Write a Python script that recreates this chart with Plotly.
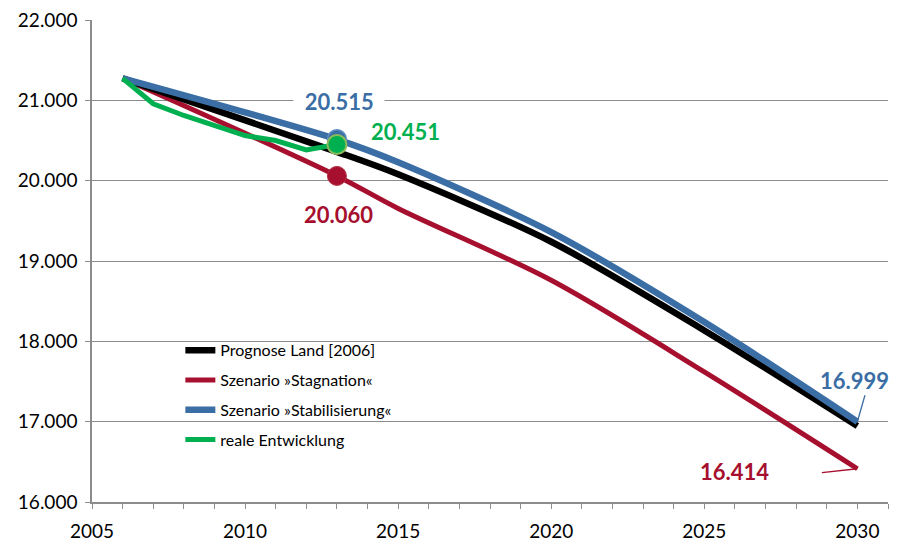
import plotly.graph_objects as go

# ---- data ----
years_scen = [2006, 2013, 2015, 2020, 2025, 2030]
prognose = [21275, 20360, 20080, 19240, 18136, 16945]
stagnation = [21275, 20060, 19655, 18760, 17620, 16414]
stabilisierung = [21275, 20515, 20230, 19360, 18240, 16999]

years_real = [2006, 2007, 2008, 2009, 2010, 2011, 2012, 2013]
real = [21275, 20958, 20812, 20687, 20562, 20500, 20383, 20451]

names = ["Prognose Land [2006]", "Szenario »Stagnation«",
         "Szenario »Stabilisierung«", "reale Entwicklung"]
colors = {"black": "#000000", "red": "#A6102E", "blue": "#3A6EA5", "green": "#00B050"}
FONT = "Lato"


def fmt(v):
    return f"{v:,.0f}".replace(",", ".")


fig = go.Figure()

# lines (draw order: red, black, blue, green)
fig.add_trace(go.Scatter(x=years_scen, y=stagnation, mode="lines", name=names[1],
                         line=dict(color=colors["red"], width=5, shape="spline", smoothing=0.9),
                         legendrank=2, legendgroup="b"))
fig.add_trace(go.Scatter(x=years_scen, y=prognose, mode="lines", name=names[0],
                         line=dict(color=colors["black"], width=6.5, shape="spline", smoothing=0.8),
                         legendrank=1, legendgroup="a"))
fig.add_trace(go.Scatter(x=years_scen, y=stabilisierung, mode="lines", name=names[2],
                         line=dict(color=colors["blue"], width=6.5, shape="spline", smoothing=0.8),
                         legendrank=3, legendgroup="c"))
fig.add_trace(go.Scatter(x=years_real, y=real, mode="lines", name=names[3],
                         line=dict(color=colors["green"], width=5),
                         legendrank=4, legendgroup="d"))

# markers at 2013
i_s = years_scen.index(2013)
i_r = years_real.index(2013)
fig.add_trace(go.Scatter(x=[years_scen[i_s]], y=[stabilisierung[i_s]], mode="markers",
                         marker=dict(size=19, color=colors["blue"],
                                     line=dict(color="#5F8CC0", width=1.5)),
                         showlegend=False))
fig.add_trace(go.Scatter(x=[years_scen[i_s]], y=[stagnation[i_s]], mode="markers",
                         marker=dict(size=19, color=colors["red"],
                                     line=dict(color="#B53048", width=1)),
                         showlegend=False))
fig.add_trace(go.Scatter(x=[years_real[i_r]], y=[real[i_r]], mode="markers",
                         marker=dict(size=19, color=colors["green"],
                                     line=dict(color="#8DBB5A", width=2)),
                         showlegend=False))

# value labels
fig.add_annotation(x=years_scen[i_s], y=stabilisierung[i_s],
                   text="\u00a0\u00a0" + fmt(stabilisierung[i_s]) + "\u00a0\u00a0",
                   showarrow=False, yshift=38, xshift=2, bgcolor="white", borderpad=0,
                   font=dict(family=FONT, size=22, color=colors["blue"], weight="bold"))
fig.add_annotation(x=years_real[i_r], y=real[i_r], text=fmt(real[i_r]),
                   showarrow=False, xshift=69, yshift=13,
                   font=dict(family=FONT, size=22, color=colors["green"], weight="bold"))
fig.add_annotation(x=years_scen[i_s], y=stagnation[i_s], text=fmt(stagnation[i_s]),
                   showarrow=False, xshift=2, yshift=-39,
                   font=dict(family=FONT, size=22, color=colors["red"], weight="bold"))
fig.add_annotation(x=years_scen[-1], y=stabilisierung[-1], text=fmt(stabilisierung[-1]),
                   showarrow=False, xshift=-3, yshift=41,
                   font=dict(family=FONT, size=22, color=colors["blue"], weight="bold"))
fig.add_annotation(x=years_scen[-1], y=stagnation[-1], text=fmt(stagnation[-1]),
                   showarrow=False, xshift=-123, yshift=-3,
                   font=dict(family=FONT, size=22, color=colors["red"], weight="bold"))
# leader lines
fig.add_annotation(x=years_scen[-1], y=stabilisierung[-1], text="", showarrow=True,
                   arrowhead=0, arrowwidth=1.3, arrowcolor=colors["blue"],
                   ax=8, ay=-28, standoff=0)
fig.add_annotation(x=years_scen[-1], y=stagnation[-1], text="", showarrow=True,
                   arrowhead=0, arrowwidth=1.3, arrowcolor=colors["red"],
                   ax=-37, ay=4, standoff=0)

grid = "#8C8C8C"
fig.update_layout(
    width=924, height=541,
    margin=dict(l=92, r=36, t=20, b=39),
    paper_bgcolor="white", plot_bgcolor="white",
    separators=",.",
    font=dict(family=FONT, size=19, color="#000000"),
    showlegend=True,
    legend=dict(x=0.111, y=0.35, xanchor="left", yanchor="top",
                bgcolor="rgba(0,0,0,0)", font=dict(family=FONT, size=16),
                tracegroupgap=6, traceorder="grouped"),
    xaxis=dict(range=[2005, 2031], tickvals=[2005, 2010, 2015, 2020, 2025, 2030],
               ticks="outside", ticklen=5, tickcolor=grid, tickwidth=1.3,
               ticklabelstandoff=6, ticklabeloverflow="allow",
               showline=True, linecolor=grid, linewidth=1.5, showgrid=False,
               zeroline=False, automargin=False,
               minor=dict(dtick=1, ticks="outside", ticklen=5, tickcolor=grid,
                          tickwidth=1.3, showgrid=False),
               tickfont=dict(family=FONT, size=19)),
    yaxis=dict(range=[16000, 22001], tickvals=[16000, 17000, 18000, 19000, 20000, 21000, 22000],
               tickformat=",d",
               ticks="outside", ticklen=5, tickcolor=grid, tickwidth=1.3,
               ticklabelstandoff=4, ticklabeloverflow="allow",
               showline=True, linecolor=grid, linewidth=1.5, automargin=False,
               showgrid=True, gridcolor=grid, gridwidth=1.3, zeroline=False,
               tickfont=dict(family=FONT, size=19)),
)

# remove the default 8px body margin so the figure fills the window exactly
fig.write_html("out.html", config={"displayModeBar": False},
               post_script="document.body.style.margin='0';")
